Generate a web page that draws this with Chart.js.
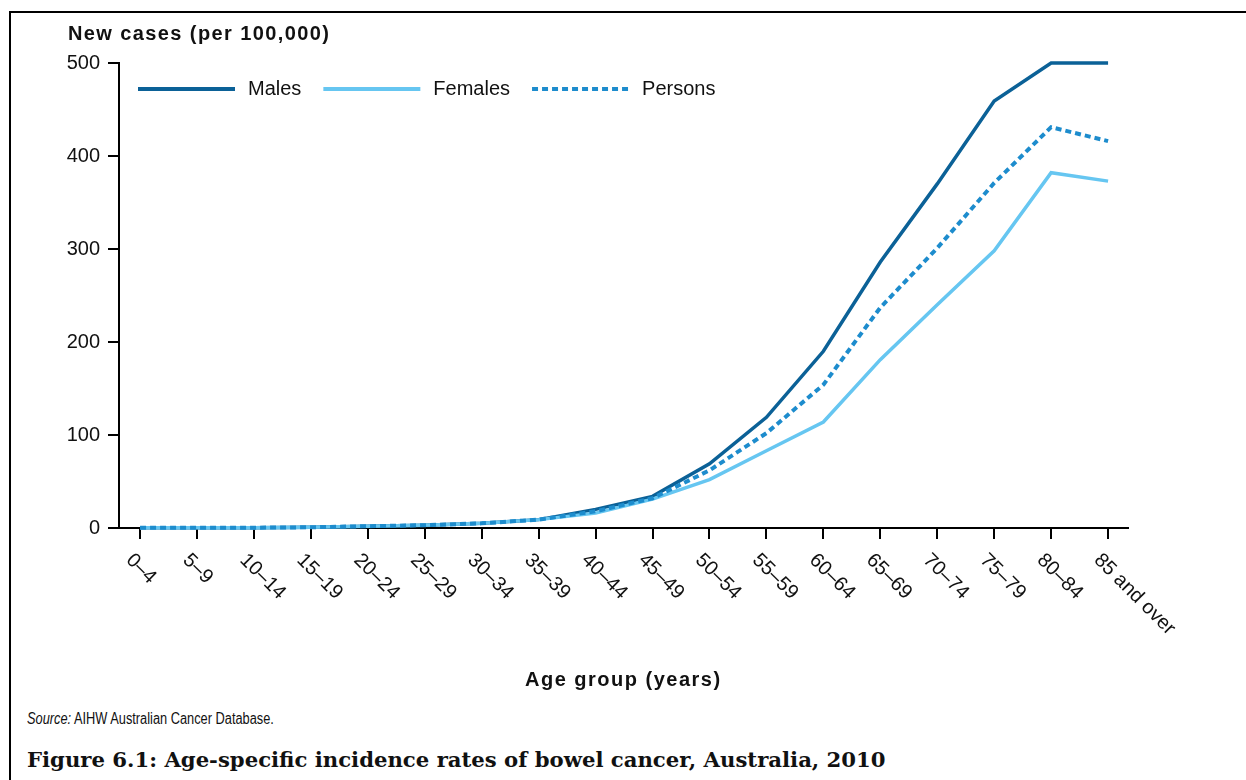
<!DOCTYPE html>
<html>
	<head>
		<title>Bowel cancer incidence by age</title>
		<script src="https://cdn.jsdelivr.net/npm/chart.js@4.4.1/dist/chart.umd.min.js"></script>
		<style>
			body {
				margin: 0;
				width: 1246px;
				height: 780px;
				overflow: hidden;
				background: #fff;
				font-family: "Liberation Sans", Arial, sans-serif;
				color: #111;
			}
			.frame {
				position: absolute;
				left: 9px;
				top: 11px;
				width: 1260px;
				height: 800px;
				border-left: 2px solid #000;
				border-top: 2px solid #000;
			}
			.chart-box {
				position: absolute;
				left: 0;
				top: 0;
				width: 1246px;
				height: 700px;
			}
			.txt {
				position: absolute;
				white-space: nowrap;
			}
			.ytitle {
				left: 68px;
				top: 22px;
				font-weight: bold;
				font-size: 20px;
				letter-spacing: 1.4px;
			}
			.xtitle {
				left: 525px;
				top: 668px;
				font-weight: bold;
				font-size: 20px;
				letter-spacing: 1.5px;
			}
			.source {
				left: 27px;
				top: 710px;
				font-size: 16px;
				transform: scaleX(0.8);
				transform-origin: left center;
			}
			.caption {
				left: 27px;
				top: 747px;
				font-family: "DejaVu Serif", "Liberation Serif", serif;
				font-weight: bold;
				font-size: 21.2px;
			}
		</style>
	</head>
	<body>
		<div class="frame"></div>
		<div class="chart-box">
			<canvas id="incidenceChart"></canvas>
		</div>
		<div class="txt ytitle">New cases (per 100,000)</div>
		<div class="txt xtitle">Age group (years)</div>
		<div class="txt source"><i>Source:</i> AIHW Australian Cancer Database.</div>
		<div class="txt caption">Figure 6.1: Age-specific incidence rates of bowel cancer, Australia, 2010</div>
		<script>
			// Age groups along the x axis
			const ageGroups = [
				"0–4", "5–9", "10–14", "15–19", "20–24", "25–29", "30–34", "35–39", "40–44",
				"45–49", "50–54", "55–59", "60–64", "65–69", "70–74", "75–79", "80–84", "85 and over",
			];

			// New cases per 100,000
			const males = [0.2, 0.2, 0.3, 0.8, 2, 3, 5, 9, 20, 34, 69, 119, 190, 286, 370, 459, 500, 500];
			const females = [0.2, 0.2, 0.3, 0.8, 1.8, 3, 5, 9, 16, 31, 52, 83, 114, 181, 240, 298, 382, 373];
			const persons = [0.2, 0.2, 0.3, 0.8, 1.9, 3, 5, 9, 18, 32, 62, 102, 154, 237, 301, 371, 431, 416];

			const yTicks = [0, 100, 200, 300, 400, 500];

			const toPoints = (vals) => vals.map((v, i) => ({ x: i, y: v }));

			// x labels (rotated down-right) and the in-plot legend
			const drawExtras = {
				id: "drawExtras",
				afterDraw(chart) {
					const ctx = chart.ctx;
					const xs = chart.scales.x;
					const ys = chart.scales.y;
					ctx.save();
					ctx.fillStyle = "#111";
					ctx.font = "20px 'Liberation Sans', Arial, sans-serif";
					ctx.textAlign = "left";
					ctx.textBaseline = "middle";
					ageGroups.forEach((lab, i) => {
						const px = xs.getPixelForValue(i);
						const py = ys.getPixelForValue(0);
						ctx.save();
						ctx.translate(px - 11, py + 29);
						ctx.rotate(Math.PI / 4);
						ctx.fillText(lab, 0, 0);
						ctx.restore();
					});

					// legend
					let x = 138;
					const y = 89;
					chart.data.datasets.forEach((ds) => {
						ctx.save();
						ctx.strokeStyle = ds.borderColor;
						ctx.lineWidth = 4;
						ctx.setLineDash(ds.borderDash || []);
						ctx.beginPath();
						ctx.moveTo(x, y);
						ctx.lineTo(x + 97, y);
						ctx.stroke();
						ctx.restore();
						x += 97 + 13;
						ctx.fillText(ds.label, x, y);
						x += ctx.measureText(ds.label).width + 22;
					});
					ctx.restore();
				},
			};

			const data = {
				datasets: [
					{
						label: "Males",
						data: toPoints(males),
						borderColor: "#0b6197",
						borderWidth: 3.5,
						order: 2,
					},
					{
						label: "Females",
						data: toPoints(females),
						borderColor: "#66c6f1",
						borderWidth: 3.5,
						order: 1,
					},
					{
						label: "Persons",
						data: toPoints(persons),
						borderColor: "#1d8ccd",
						borderWidth: 4,
						borderDash: [6, 4],
						order: 0,
					},
				],
			};

			const config = {
				type: "line",
				data: data,
				options: {
					responsive: true,
					maintainAspectRatio: false,
					animation: false,
					layout: {
						padding: { left: 0, top: 63, right: 118, bottom: 0 },
					},
					elements: {
						point: { radius: 0 },
						line: { tension: 0, borderCapStyle: "butt" },
					},
					datasets: {
						line: { clip: 6 },
					},
					plugins: {
						legend: { display: false },
						tooltip: { enabled: false },
					},
					scales: {
						x: {
							type: "linear",
							min: -0.37,
							max: 17.35,
							afterBuildTicks: (s) => {
								s.ticks = ageGroups.map((_, i) => ({ value: i }));
							},
							afterFit: (s) => {
								s.height = 172;
							},
							ticks: { display: false },
							grid: {
								drawOnChartArea: false,
								drawTicks: true,
								tickLength: 11,
								color: "#000",
								lineWidth: 2,
							},
							border: { color: "#000", width: 2 },
						},
						y: {
							min: 0,
							max: 500,
							afterBuildTicks: (s) => {
								s.ticks = yTicks.map((v) => ({ value: v }));
							},
							afterFit: (s) => {
								s.width = 119;
							},
							ticks: {
								padding: 8,
								color: "#111",
								font: { family: "'Liberation Sans', Arial, sans-serif", size: 20 },
							},
							grid: {
								drawOnChartArea: false,
								drawTicks: true,
								tickLength: 11,
								color: "#000",
								lineWidth: 2,
							},
							border: { color: "#000", width: 2 },
						},
					},
				},
				plugins: [drawExtras],
			};

			new Chart(document.getElementById("incidenceChart"), config);
		</script>
	</body>
</html>
